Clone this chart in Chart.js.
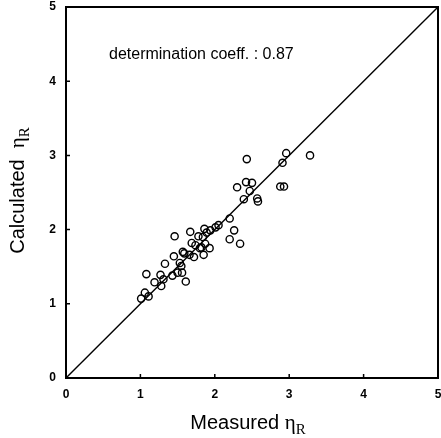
<!DOCTYPE html>
<html>
<head>
<meta charset="utf-8">
<script src="https://cdn.jsdelivr.net/npm/chart.js@4.4.1/dist/chart.umd.min.js"></script>
<style>
html,body{margin:0;padding:0;background:#fff;}
#wrap{width:441px;height:438px;position:relative;}
</style>
</head>
<body>
<div id="wrap"><canvas id="c" width="441" height="438"></canvas></div>
<script>
// ---- data ----
const measured = [1.01,1.06,1.11,1.08,1.19,1.27,1.28,1.31,1.33,1.43,1.45,1.46,1.50,1.53,1.55,1.56,1.61,1.57,1.59,1.67,1.66,1.72,1.69,1.74,1.78,1.80,1.85,1.86,1.87,1.89,1.93,1.94,2.01,2.05,2.20,2.20,2.26,2.34,2.30,2.39,2.43,2.42,2.50,2.47,2.57,2.58,2.88,2.93,2.91,2.96,3.28,1.82,1.84];
const calculated = [1.07,1.15,1.10,1.40,1.29,1.39,1.24,1.33,1.54,1.38,1.64,1.91,1.42,1.55,1.51,1.42,1.30,1.70,1.68,1.97,1.66,1.63,1.82,1.79,1.91,1.75,1.66,2.01,1.81,1.96,1.75,1.99,2.03,2.06,2.15,1.87,1.99,1.81,2.57,2.41,2.95,2.64,2.63,2.52,2.42,2.38,2.58,2.58,2.90,3.03,3.00,1.76,1.90];
const lineX = [0, 5];
const lineY = [0, 5];
const axisTicks = [0, 1, 2, 3, 4, 5];
const xTitleMain = "Measured ";
const yTitleMain = "Calculated  ";
const etaSymbol = "η";
const subscriptText = "R";
const annotationText = "determination coeff. : 0.87";

const points = measured.map((m, i) => ({x: m, y: calculated[i]}));
const linePts = lineX.map((v, i) => ({x: v, y: lineY[i]}));

const AREA = {left: 66, right: 438, top: 7, bottom: 378};

function drawTitle(ctx, main, cx, baseline) {
  ctx.font = '20px "Liberation Sans", Arial, sans-serif';
  const w1 = ctx.measureText(main).width;
  ctx.font = '21px "Liberation Serif", serif';
  const w2 = ctx.measureText(etaSymbol).width;
  ctx.font = '15px "Liberation Serif", serif';
  const w3 = ctx.measureText(subscriptText).width;
  const total = w1 + w2 + w3;
  let x = cx - total / 2;
  ctx.textAlign = 'left';
  ctx.textBaseline = 'alphabetic';
  ctx.fillStyle = '#000';
  ctx.font = '20px "Liberation Sans", Arial, sans-serif';
  ctx.fillText(main, x, baseline);
  x += w1;
  ctx.font = '21px "Liberation Serif", serif';
  ctx.fillText(etaSymbol, x, baseline);
  x += w2;
  ctx.font = '15px "Liberation Serif", serif';
  ctx.fillText(subscriptText, x, baseline + 5);
}

const areaPlugin = {
  id: 'fixedArea',
  afterLayout(chart) {
    const ca = chart.chartArea;
    ca.left = AREA.left; ca.right = AREA.right; ca.top = AREA.top; ca.bottom = AREA.bottom;
    ca.width = AREA.right - AREA.left; ca.height = AREA.bottom - AREA.top;
    const xs = chart.scales.x, ys = chart.scales.y;
    xs.left = AREA.left; xs.right = AREA.right; xs.width = AREA.right - AREA.left;
    xs.top = AREA.bottom; xs.bottom = chart.height; xs.height = chart.height - AREA.bottom;
    ys.top = AREA.top; ys.bottom = AREA.bottom; ys.height = AREA.bottom - AREA.top;
    ys.left = 0; ys.right = AREA.left; ys.width = AREA.left;
    xs.configure(); ys.configure();
    xs._labelItems = null; ys._labelItems = null;
    xs._gridLineItems = null; ys._gridLineItems = null;
  }
};

const framePlugin = {
  id: 'frame',
  afterDraw(chart) {
    const {ctx, chartArea: a, scales} = chart;
    const xs = scales.x, ys = scales.y;
    ctx.save();
    ctx.strokeStyle = '#000';
    ctx.lineWidth = 2;
    ctx.strokeRect(a.left, a.top, a.right - a.left, a.bottom - a.top);
    ctx.lineWidth = 1.5;
    ctx.beginPath();
    axisTicks.forEach(v => {
      const px = xs.getPixelForValue(v);
      ctx.moveTo(px, a.bottom);
      ctx.lineTo(px, a.bottom - 4);
      const py = ys.getPixelForValue(v);
      ctx.moveTo(a.left, py);
      ctx.lineTo(a.left + 4, py);
    });
    ctx.stroke();

    ctx.fillStyle = '#000';
    ctx.font = '16px "Liberation Sans", Arial, sans-serif';
    ctx.textAlign = 'left';
    ctx.textBaseline = 'middle';
    ctx.fillText(annotationText, 109, 55);

    drawTitle(ctx, xTitleMain, (a.left + a.right) / 2 - 4, 429);
    ctx.save();
    ctx.translate(24, (a.top + a.bottom) / 2 - 2);
    ctx.rotate(-Math.PI / 2);
    drawTitle(ctx, yTitleMain, 0, 0);
    ctx.restore();
    ctx.restore();
  }
};

const tickFont = {family: 'Arial, sans-serif', size: 12, weight: 'bold'};

new Chart(document.getElementById('c'), {
  type: 'scatter',
  data: {
    datasets: [
      {type: 'line', data: linePts, borderColor: '#000', borderWidth: 1.4, pointRadius: 0, fill: false, tension: 0},
      {data: points, pointStyle: 'circle', pointRadius: 3.6, pointBorderWidth: 1.4, pointBorderColor: '#000',
       pointBackgroundColor: 'rgba(0,0,0,0)', borderColor: '#000', backgroundColor: 'rgba(0,0,0,0)'}
    ]
  },
  options: {
    responsive: false,
    devicePixelRatio: 1,
    animation: false,
    layout: {autoPadding: false, padding: 0},
    plugins: {legend: {display: false}, tooltip: {enabled: false}},
    scales: {
      x: {type: 'linear', min: 0, max: 5, grid: {display: false, drawTicks: false},
          border: {display: true, color: '#000', width: 2},
          ticks: {stepSize: 1, color: '#000', font: tickFont, padding: 9, maxRotation: 0},
          afterFit(scale) { scale.height = 60; }},
      y: {type: 'linear', min: 0, max: 5, grid: {display: false, drawTicks: false},
          border: {display: true, color: '#000', width: 2},
          ticks: {stepSize: 1, color: '#000', font: tickFont, padding: 10},
          afterFit(scale) { scale.width = 66; }}
    }
  },
  plugins: [areaPlugin, framePlugin]
});
</script>
</body>
</html>
